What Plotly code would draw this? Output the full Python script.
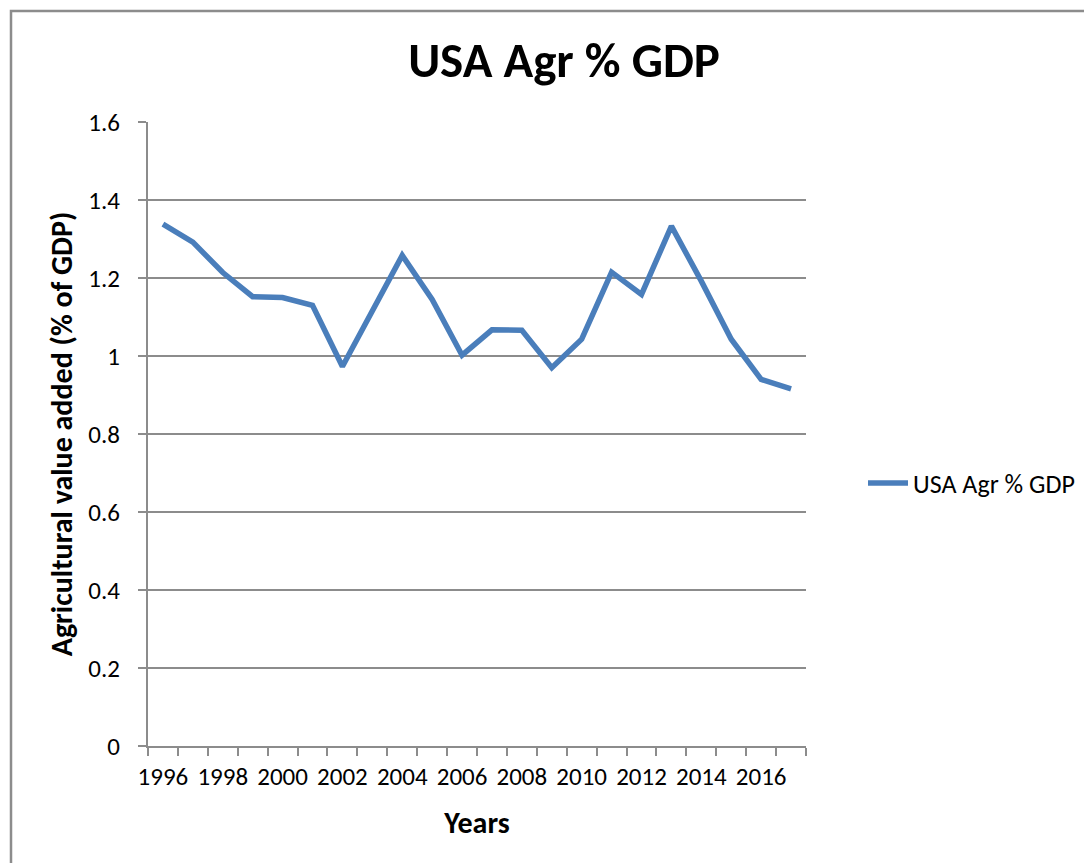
import plotly.graph_objects as go

years = list(range(1996, 2018))
agr_pct_gdp = [1.338, 1.292, 1.214, 1.152, 1.150, 1.130, 0.973, 1.115, 1.258, 1.145,
               1.002, 1.067, 1.066, 0.970, 1.043, 1.215, 1.158, 1.333, 1.192, 1.043,
               0.940, 0.916]
series_name = "USA Agr % GDP"
x_tick_labels = [str(y) for y in range(1996, 2017, 2)]
x_tick_vals = list(range(1996, 2017, 2))

FONT = "Carlito, Calibri, 'Open Sans', sans-serif"
GRID = "#8c8c8c"

# page offset from the default body margin
OFF = 8
W, H = 1092 - OFF, 863 - OFF
# plot area in page pixels
L, R, T, B = 148, 806, 122, 746

def px_x(p):
    return (p - L) / (R - L)

def px_y(p):
    return (B - p) / (B - T)

fig = go.Figure()
fig.add_trace(go.Scatter(
    x=years, y=agr_pct_gdp, mode="lines", name=series_name,
    line=dict(color="#4a7ebb", width=5.5),
))

fig.update_layout(
    width=W, height=H,
    margin=dict(l=L - OFF, r=1092 - R, t=T - OFF, b=863 - B, autoexpand=False),
    paper_bgcolor="white", plot_bgcolor="white",
    font=dict(family=FONT, size=25, color="black"),
    title=dict(text="<b>USA Agr % GDP</b>", font=dict(size=49, family=FONT, color="black"),
               x=px_x(564), xref="paper", xanchor="center",
               y=1 - (60 - OFF) / H, yref="container", yanchor="middle"),
    showlegend=True,
    legend=dict(x=px_x(863), y=px_y(483), xref="paper", yref="paper",
                xanchor="left", yanchor="middle",
                font=dict(size=26, family=FONT, color="black"),
                bgcolor="rgba(0,0,0,0)", itemwidth=40),
    xaxis=dict(
        range=[1995.5, 2017.5], showgrid=False, zeroline=False,
        showline=True, linecolor=GRID, linewidth=2,
        tickmode="array", tickvals=x_tick_vals, ticktext=x_tick_labels,
        ticks="", ticklabelstandoff=7,
        tickfont=dict(size=25, family=FONT, color="black"),
        minor=dict(tick0=1995.5, dtick=1, ticks="outside", ticklen=8,
                   tickwidth=2, tickcolor=GRID, showgrid=False),
        title=dict(text="<b>Years</b>", font=dict(size=30, family=FONT, color="black"),
                   standoff=21),
    ),
    yaxis=dict(
        range=[0, 1.6], dtick=0.2, tick0=0, showgrid=True, gridcolor=GRID, gridwidth=2,
        zeroline=False, showline=True, linecolor=GRID, linewidth=2,
        ticks="outside", ticklen=8, tickwidth=2, tickcolor=GRID,
        ticklabelstandoff=13,
        tickfont=dict(size=25, family=FONT, color="black"),
        title=dict(text="<b>Agricultural value added (% of GDP)</b>",
                   font=dict(size=30, family=FONT, color="black"), standoff=7),
    ),
    shapes=[dict(type="rect", xref="paper", yref="paper",
                 x0=px_x(11), x1=px_x(1092 + 50), y0=px_y(863 + 50), y1=px_y(11),
                 line=dict(color=GRID, width=2.5), fillcolor="rgba(0,0,0,0)", layer="below")],
)

fig.write_html("out.html")
